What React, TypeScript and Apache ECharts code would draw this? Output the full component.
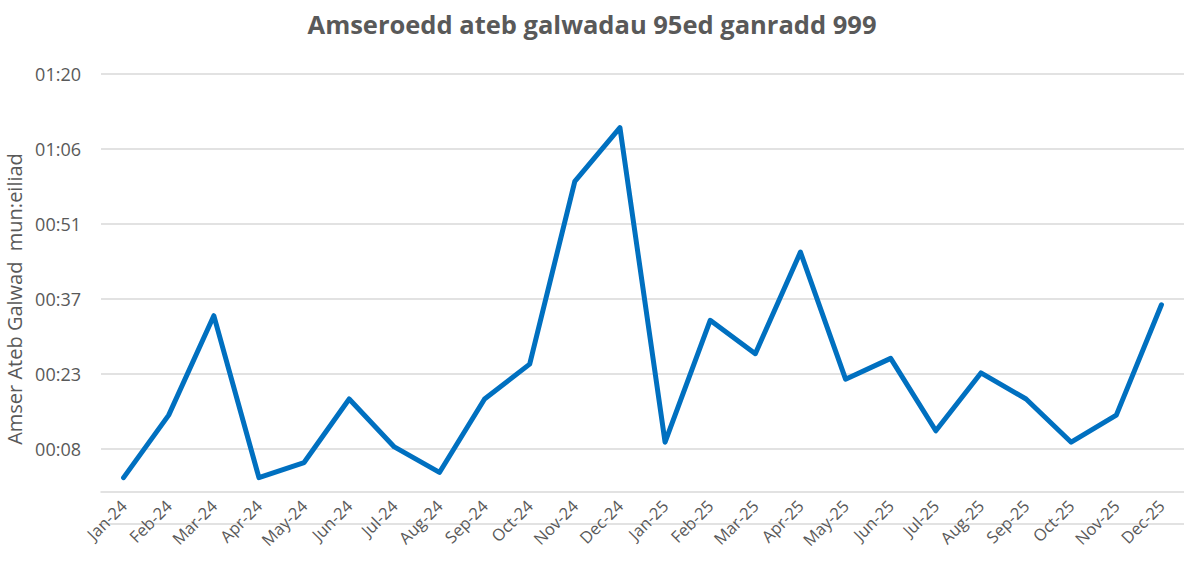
import React, { useEffect, useRef } from "react";
import * as echarts from "echarts";

const categories = [
  "Jan-24", "Feb-24", "Mar-24", "Apr-24", "May-24", "Jun-24", "Jul-24", "Aug-24",
  "Sep-24", "Oct-24", "Nov-24", "Dec-24", "Jan-25", "Feb-25", "Mar-25", "Apr-25",
  "May-25", "Jun-25", "Jul-25", "Aug-25", "Sep-25", "Oct-25", "Nov-25", "Dec-25",
];

// 95th percentile answer time in seconds
const answerSeconds = [
  2.7, 14.7, 33.8, 2.7, 5.6, 17.8, 8.6, 3.7, 17.8, 24.5, 59.6, 69.9,
  9.5, 32.9, 26.5, 46.0, 21.6, 25.6, 11.7, 22.8, 17.8, 9.5, 14.7, 35.9,
];

const yMin = -6.2;
const yMax = 80.2;
const yStep = 14.4;

const title = "Amseroedd ateb galwadau 95ed ganradd 999";
const yName = "Amser Ateb Galwad  mun:eiliad";

function fmt(v: number): string {
  if (v < 0) return "";
  const s = Math.round(v);
  const m = Math.floor(s / 60);
  const r = s % 60;
  return String(m).padStart(2, "0") + ":" + String(r).padStart(2, "0");
}

const W = 1184;
const H = 565;
const GRID_TOP = 74;
const GRID_BOTTOM = 41;

export default function App() {
  const ref = useRef<HTMLDivElement>(null);
  useEffect(() => {
    if (!ref.current) return;
    const chart = echarts.init(ref.current, undefined, { renderer: "svg" });
    const font = "'Open Sans', 'Noto Sans', sans-serif";
    const gridH = H - GRID_TOP - GRID_BOTTOM;
    const zeroOffset = -((0 - yMin) / (yMax - yMin)) * gridH;
    chart.setOption({
      animation: false,
      backgroundColor: "#ffffff",
      title: {
        text: title,
        left: "center",
        top: 6,
        textStyle: { fontFamily: font, fontSize: 25.5, fontWeight: "bold", color: "#595959" },
      },
      grid: {
        left: 101,
        right: 0,
        top: GRID_TOP,
        bottom: GRID_BOTTOM,
        containLabel: false,
        outerBoundsMode: "none",
      },
      xAxis: {
        type: "category",
        data: categories,
        boundaryGap: true,
        position: "bottom",
        offset: zeroOffset,
        axisLine: { onZero: false, lineStyle: { color: "#D9D9D9", width: 1.5 } },
        axisTick: { show: false },
        axisLabel: {
          rotate: 45,
          interval: 0,
          margin: 11,
          color: "#595959",
          fontFamily: font,
          fontSize: 16.5,
        },
      },
      yAxis: {
        type: "value",
        min: yMin,
        max: yMax,
        interval: yStep,
        name: yName,
        nameLocation: "middle",
        nameGap: 73,
        nameTextStyle: { color: "#595959", fontFamily: font, fontSize: 20 },
        axisLine: { show: false },
        axisTick: { show: false },
        axisLabel: {
          color: "#595959",
          fontFamily: font,
          fontSize: 18,
          margin: 20,
          formatter: (v: number) => fmt(v),
        },
        splitLine: { lineStyle: { color: "#D9D9D9", width: 1.5 } },
      },
      series: [
        {
          type: "line",
          data: answerSeconds,
          symbol: "none",
          lineStyle: { color: "#0070C0", width: 5, join: "round", cap: "round" },
        },
      ],
    });
    return () => chart.dispose();
  }, []);
  return (
    <div
      ref={ref}
      style={{ position: "fixed", left: 0, top: 0, width: W, height: H }}
    />
  );
}
